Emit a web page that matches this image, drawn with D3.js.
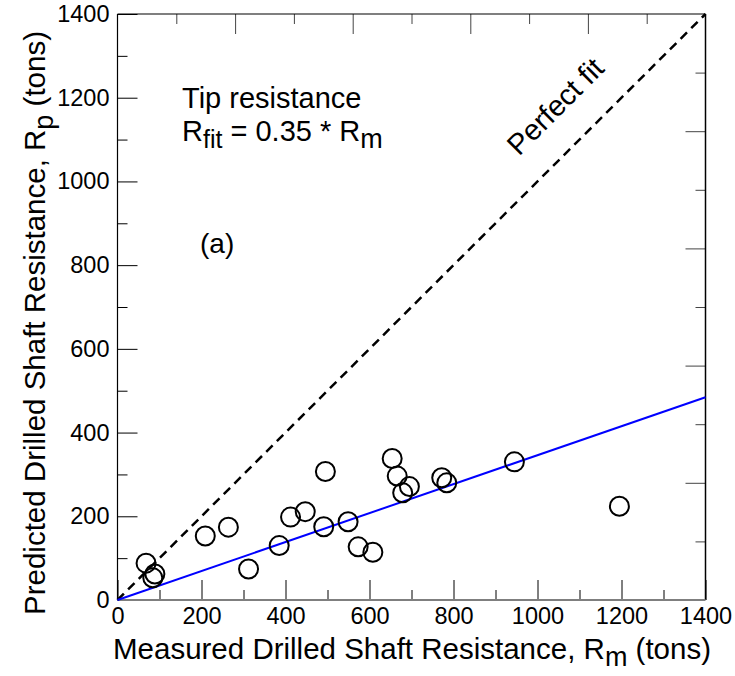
<!DOCTYPE html>
<html>
<head>
<meta charset="utf-8">
<script src="https://d3js.org/d3.v7.min.js"></script>
<title>Tip resistance - predicted vs measured</title>
</head>
<style>
body { margin: 0; background: #fff; }
svg { display: block; font-family: "Liberation Sans", Arial, sans-serif; }
</style>
<body>
<svg width="735" height="676"></svg>
</body>
<script>

// measured vs predicted tip resistance (tons)
let measured  = [68, 89, 84, 209, 264, 312, 385, 412, 447, 495, 491, 549, 573, 608, 654, 666, 695, 679, 772, 784, 945, 1195];
let predicted = [88, 62, 53, 153, 174, 74, 130, 198, 211, 307, 175, 187, 127, 114, 338, 296, 271, 256, 292, 280, 330, 224];

let fitSlope = 0.346;   // blue line, R_fit = 0.35 * R_m
let axisMax = 1400;
let bottomTicks = d3.range(0, 1401, 200);
let bottomMinor = d3.range(100, 1400, 200);
let topTicks = d3.range(140, 1400, 140);

let svg = d3.select("svg");

let x = d3.scaleLinear().domain([0, axisMax]).range([117.5, 705.5]);
let y = d3.scaleLinear().domain([0, axisMax]).range([600, 14]);

function drawAxes() {
  // bottom, major + labels
  let gb = svg.append("g").attr("transform", "translate(0,600)")
    .call(d3.axisBottom(x).tickValues(bottomTicks).tickSize(-20).tickPadding(7).tickFormat(d3.format("d")));
  gb.selectAll("text").attr("font-size", 23.5).attr("font-family", "Liberation Sans, Arial").attr("fill", "#000");
  gb.select(".domain").remove();
  let gbm = svg.append("g").attr("transform", "translate(0,600)")
    .call(d3.axisBottom(x).tickValues(bottomMinor).tickSize(-10).tickFormat(""));
  gbm.select(".domain").remove();

  // left
  let gl = svg.append("g").attr("transform", "translate(117.5,0)")
    .call(d3.axisLeft(y).tickValues(bottomTicks).tickSize(-20).tickPadding(8).tickFormat(d3.format("d")));
  gl.selectAll("text").attr("font-size", 23.5).attr("font-family", "Liberation Sans, Arial").attr("fill", "#000");
  gl.select(".domain").remove();
  let glm = svg.append("g").attr("transform", "translate(117.5,0)")
    .call(d3.axisLeft(y).tickValues(bottomMinor).tickSize(-10).tickFormat(""));
  glm.select(".domain").remove();

  // top and right use a 140 step, long every other one
  let gt = svg.append("g").attr("transform", "translate(0,14)")
    .call(d3.axisTop(x).tickValues(topTicks).tickFormat(""));
  gt.selectAll(".tick line").attr("y2", d => (d % 280 == 0) ? 20 : 10).attr("stroke", "#444");
  gt.select(".domain").remove();

  let gr = svg.append("g").attr("transform", "translate(705.5,0)")
    .call(d3.axisRight(y).tickValues(topTicks).tickFormat(""));
  gr.selectAll(".tick line").attr("x2", d => (d % 280 == 0) ? -20 : -10).attr("stroke", "#444");
  gr.select(".domain").remove();

  // frame
  svg.append("line").attr("x1", x(0)).attr("x2", x(axisMax)).attr("y1", y(axisMax)).attr("y2", y(axisMax))
    .attr("stroke", "#000").attr("stroke-width", 1.2);
  svg.append("line").attr("x1", x(0)).attr("x2", x(0)).attr("y1", y(0)).attr("y2", y(axisMax))
    .attr("stroke", "#000").attr("stroke-width", 1.2);
  svg.append("line").attr("x1", x(axisMax)).attr("x2", x(axisMax)).attr("y1", y(0)).attr("y2", y(axisMax))
    .attr("stroke", "#000").attr("stroke-width", 1.5);
  svg.append("line").attr("x1", x(0)).attr("x2", x(axisMax)).attr("y1", y(0)).attr("y2", y(0))
    .attr("stroke", "#7f7f7f").attr("stroke-width", 2);
}

function drawLines() {
  svg.append("line")
    .attr("x1", x(0)).attr("y1", y(0))
    .attr("x2", x(axisMax)).attr("y2", y(axisMax))
    .attr("stroke", "#000").attr("stroke-width", 2.5)
    .attr("stroke-dasharray", "9,6");

  svg.append("line")
    .attr("x1", x(0)).attr("y1", y(0))
    .attr("x2", x(axisMax)).attr("y2", y(fitSlope * axisMax))
    .attr("stroke", "#0000ff").attr("stroke-width", 2);
}

function drawPoints() {
  svg.selectAll("circle.pt")
    .data(measured.map((m, i) => [m, predicted[i]]))
    .enter().append("circle")
    .attr("class", "pt")
    .attr("cx", d => x(d[0]))
    .attr("cy", d => y(d[1]))
    .attr("r", 9.5)
    .attr("fill", "none")
    .attr("stroke", "#000")
    .attr("stroke-width", 2);
}

function drawText() {
  let xt = svg.append("text")
    .attr("x", 412).attr("y", 659)
    .attr("text-anchor", "middle")
    .attr("font-size", 29.5);
  xt.append("tspan").text("Measured Drilled Shaft Resistance, R");
  xt.append("tspan").attr("dy", 7).attr("font-size", 27).text("m");
  xt.append("tspan").attr("dy", -7).text(" (tons)");

  let yt = svg.append("text")
    .attr("transform", "translate(45,323) rotate(-90)")
    .attr("text-anchor", "middle")
    .attr("font-size", 29.5);
  yt.append("tspan").text("Predicted Drilled Shaft Resistance, R");
  yt.append("tspan").attr("dy", 8).attr("font-size", 27).text("p");
  yt.append("tspan").attr("dy", -8).text(" (tons)");

  svg.append("text").attr("x", 182).attr("y", 108).attr("font-size", 29).text("Tip resistance");

  let ft = svg.append("text").attr("x", 182).attr("y", 141).attr("font-size", 29);
  ft.append("tspan").text("R");
  ft.append("tspan").attr("dy", 7).attr("font-size", 25).text("fit");
  ft.append("tspan").attr("dy", -7).text(" = 0.35 * R");
  ft.append("tspan").attr("dy", 7).attr("font-size", 27).text("m");

  svg.append("text").attr("x", 200).attr("y", 253).attr("font-size", 28).text("(a)");

  svg.append("text")
    .attr("transform", "translate(557,108) rotate(-45)")
    .attr("text-anchor", "middle")
    .attr("dominant-baseline", "middle")
    .attr("font-size", 29)
    .text("Perfect fit");
}

drawAxes();
drawLines();
drawPoints();
drawText();

</script>
</html>
